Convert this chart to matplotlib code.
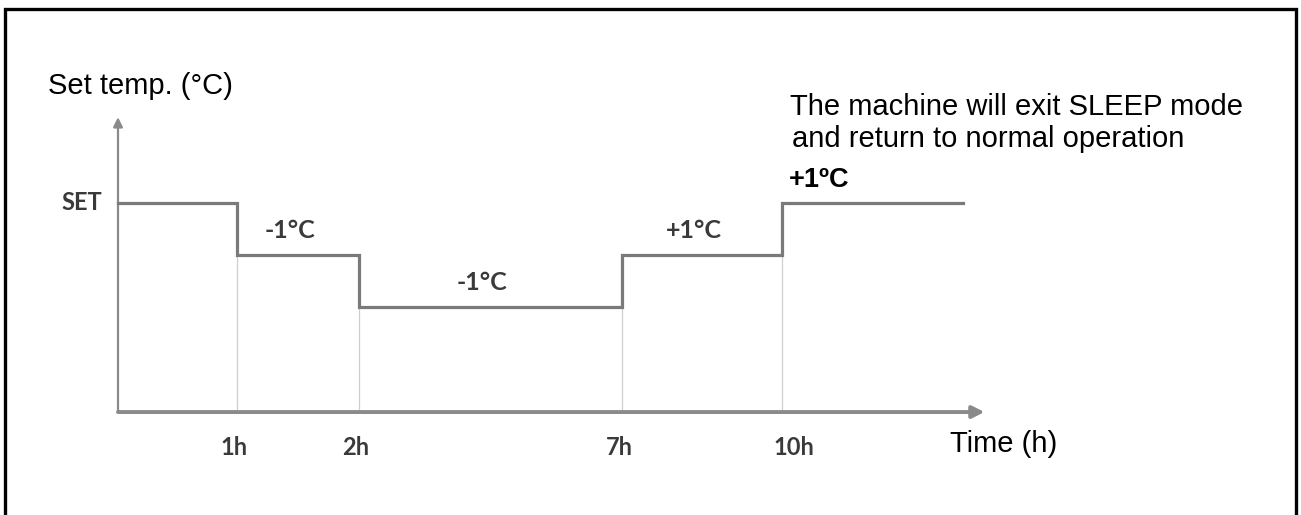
import matplotlib
matplotlib.use("Agg")
import matplotlib.pyplot as plt
import numpy as np
from matplotlib.patches import Rectangle

# sleep-mode schedule: hours at which set temp changes, offset from SET (°C)
step_hours = [0, 1, 2, 7, 10]
step_offsets = [0, -1, -2, -1, 0]
tail_hour = 13.4  # line keeps going after the last step
change_labels = ["-1°C", "-1°C", "+1°C"]
tick_labels = ["1h", "2h", "7h", "10h"]
final_label = "+1ºC"
note_lines = ["The machine will exit SLEEP mode", "and return to normal operation"]

LINE_GREY = "#7a7a7a"
AXIS_GREY = "#8a8a8a"
TEXT_DARK = "#3a3a3a"
ARIAL = "Liberation Sans"
CALIBRI = "Lato"

# schematic time axis: segments are not drawn to scale
knot_h = np.array([-20.0, 0, 1, 2, 7, 10, 40])
knot_px = np.array([118 - 20 * 119, 118, 237, 359, 622, 782, 782 + 30 * 53.3])


def fwd(h):
    return np.interp(h, knot_h, knot_px)


def inv(p):
    return np.interp(p, knot_px, knot_h)


W, H = 1301, 515
fig = plt.figure(figsize=(W / 100, H / 100), dpi=100)
ax = fig.add_axes([0, 0, 1, 1])
ax.set_xscale("function", functions=(fwd, inv))
ax.set_xlim(inv(0), inv(W))
ax.set_ylim(-(H - 203) / 52, 203 / 52)
ax.axis("off")

x_end = 13.8   # arrow tip of time axis
y_base = -4.02  # time axis level
y_top = 1.65   # arrow tip of temp axis


def px(v):
    # pixel offsets -> points
    return v * 0.72


# thin guides from each change point down to the time axis
for i, h in enumerate(step_hours[1:], start=1):
    lo = min(step_offsets[i - 1], step_offsets[i])
    ax.vlines(h, y_base, lo, color="#cfcfcf", lw=0.9, zorder=1)

# axes with arrows
ax.annotate("", xy=(x_end, y_base), xytext=(0, y_base),
            arrowprops=dict(arrowstyle="-|>", color=AXIS_GREY, lw=2.8,
                            mutation_scale=18, shrinkA=0, shrinkB=0), zorder=2)
ax.annotate("", xy=(0, y_top), xytext=(0, y_base),
            arrowprops=dict(arrowstyle="-|>", color=AXIS_GREY, lw=1.6,
                            mutation_scale=14, shrinkA=0, shrinkB=0), zorder=2)

# the set-temperature profile
ax.step(step_hours + [tail_hour], step_offsets + [step_offsets[-1]],
        where="post", color=LINE_GREY, lw=2.3, zorder=3, solid_joinstyle="miter")

# change labels over the inner segments
for i, lab in enumerate(change_labels, start=1):
    mid = (step_hours[i] + step_hours[i + 1]) / 2
    ax.annotate(lab, xy=(mid, step_offsets[i]), xytext=(-6, px(24)),
                textcoords="offset points", ha="center", va="center",
                fontsize=18, fontweight="bold", family=CALIBRI, color=TEXT_DARK)

ax.annotate("SET", xy=(0, step_offsets[0]), xytext=(px(-16), 0),
            textcoords="offset points", ha="right", va="center",
            fontsize=17, fontweight="bold", family=CALIBRI, color=TEXT_DARK)

for h, lab in zip(step_hours[1:], tick_labels):
    dx = px(12) if h >= 10 else px(-3)
    ax.annotate(lab, xy=(h, y_base), xytext=(dx, px(-35)),
                textcoords="offset points", ha="center", va="center",
                fontsize=17, fontweight="bold", family=CALIBRI, color=TEXT_DARK)

ax.annotate("Set temp. (°C)", xy=(0, y_top), xytext=(px(-70), px(23)),
            textcoords="offset points", ha="left", va="baseline",
            fontsize=21, family=ARIAL, color="black")
ax.annotate("Time (h)", xy=(x_end, y_base), xytext=(px(-35), px(-40)),
            textcoords="offset points", ha="left", va="baseline",
            fontsize=21, family=ARIAL, color="black")

# note at the end of sleep mode
ax.annotate(note_lines[0], xy=(10, step_offsets[-1]), xytext=(px(8), px(88)),
            textcoords="offset points", ha="left", va="baseline",
            fontsize=21, family=ARIAL, color="black")
ax.annotate(note_lines[1], xy=(10, step_offsets[-1]), xytext=(px(10), px(56)),
            textcoords="offset points", ha="left", va="baseline",
            fontsize=21, family=ARIAL, color="black")
ax.annotate(final_label, xy=(10, step_offsets[-1]), xytext=(px(7), px(16)),
            textcoords="offset points", ha="left", va="baseline",
            fontsize=19.5, fontweight="bold", family=ARIAL, color="black")

# frame around the diagram (open at the bottom edge of the crop)
top = 1 - 9 / H
fig.add_artist(Rectangle((5 / W, -0.05), (1296 - 5) / W, top + 0.05,
                         transform=fig.transFigure, fill=False,
                         ec="black", lw=2.4, clip_on=False))

fig.savefig("out.png", dpi=100, facecolor="white")
